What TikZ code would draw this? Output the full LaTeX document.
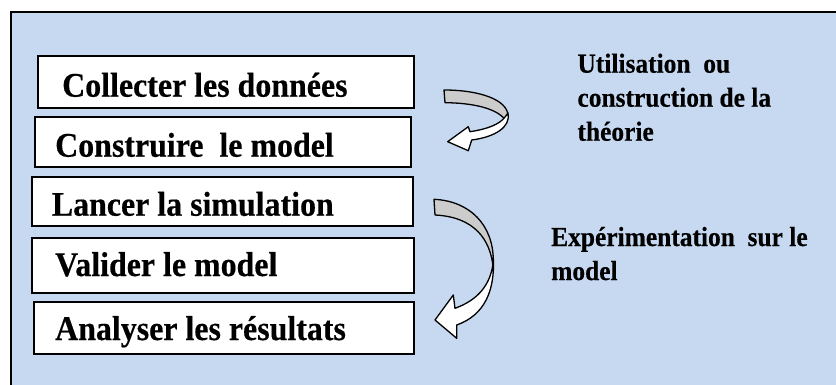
\documentclass[tikz,border=0pt]{standalone}
\usepackage{fontspec}
\setmainfont{Liberation Serif}
\newfontfamily\stepfont[FakeStretch=0.925,FakeBold=0.4]{Liberation Serif}
\definecolor{panelblue}{HTML}{C6D9F0}
\definecolor{backgrey}{HTML}{CCCCCC}
\begin{document}
\begin{tikzpicture}[x=1pt,y=-1pt,
  stepbox/.style={draw=black, line width=2pt, fill=white, inner sep=0pt},
  steptext/.style={anchor=base west, inner sep=0pt, font=\stepfont\bfseries\fontsize{34.5}{36}\selectfont},
  notetext/.style={anchor=base west, inner sep=0pt, align=left, font=\stepfont\bfseries\fontsize{27.5}{34}\selectfont},
  ribbonback/.style={draw=black, line width=1.3pt, fill=backgrey, line join=round},
  ribbonfront/.style={draw=black, line width=1.3pt, fill=white, line join=round}]
\useasboundingbox (0,0) rectangle (836,385);

% panel
\fill[panelblue] (11,12) rectangle (836,385);
\draw[line width=2pt] (11,385) -- (11,12) -- (836,12);

% process steps
\node[stepbox, minimum width=376.3pt, minimum height=52pt]   (b1) at (225.9,81.7)  {};
\node[stepbox, minimum width=376pt,   minimum height=49.7pt] (b2) at (223,141.8)   {};
\node[stepbox, minimum width=381pt,   minimum height=48.4pt] (b3) at (222.5,201.5) {};
\node[stepbox, minimum width=382pt,   minimum height=55.6pt] (b4) at (223,265.5)   {};
\node[stepbox, minimum width=380pt,   minimum height=52pt]   (b5) at (224,328.3)   {};

\node[steptext] (t1) at (62,96.7)  {Collecter les données};
\node[steptext] (t2) at (55,156.7) {Construire\ \ le model};
\node[steptext] (t3) at (51.7,215.7) {Lancer la simulation};
\node[steptext] (t4) at (55,276)   {Valider le model};
\node[steptext] (t5) at (55,340)   {Analyser les résultats};

% side notes (base anchor sits on the last line)
\node[notetext] (n1) at (577.3,140.7) {Utilisation\ \ ou\\construction\ de\ la\\théorie};
\node[notetext] (n2) at (551,280) {Expérimentation\ \ sur le\\model};

% curved ribbon arrow: theory loop
\draw[ribbonback] (444,90) .. controls (480,90) and (508,100) .. (508,116)
  -- (506,121) .. controls (500,111) and (480,103) .. (445,102.7) -- cycle;
\draw[ribbonfront] (508,113) .. controls (511,127) and (495,137) .. (471.7,140)
  -- (468.3,150.7) -- (447.7,141.7) -- (468.3,126.7) -- (470,131.7)
  .. controls (488,129) and (500,124) .. (505,117) -- cycle;

% curved ribbon arrow: experimentation loop
\draw[ribbonback] (434,199.3) .. controls (470,201) and (493,225) .. (493.3,260)
  -- (493,266) .. controls (490,240) and (475,217) .. (435,215) -- cycle;
\draw[ribbonfront] (493.3,258) .. controls (495,290) and (485,315) .. (456.7,325)
  -- (456.7,338.3) -- (435,320) -- (453.3,295) -- (455,308.3)
  .. controls (478,300) and (490,285) .. (493,264) -- cycle;
\end{tikzpicture}
\end{document}
